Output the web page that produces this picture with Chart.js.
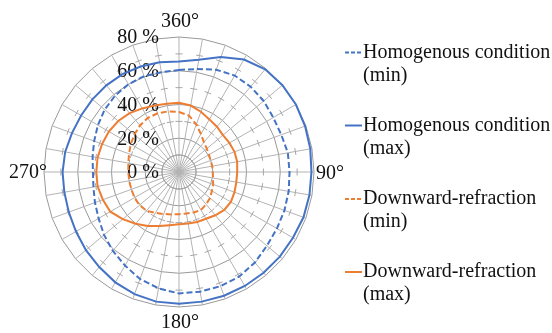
<!DOCTYPE html>
<html><head><meta charset="utf-8">
<script src="https://cdn.jsdelivr.net/npm/chart.js@4/dist/chart.umd.min.js"></script>
<style>html,body{margin:0;padding:0;background:#fff}#wrap{width:552px;height:333px}</style>
</head><body><div id="wrap"><canvas id="c" width="552" height="333"></canvas></div>
<script>
// Categories: azimuth every 10 degrees
const directions = ['0','10','20','30','40','50','60','70','80','90','100','110','120','130','140','150','160','170',
  '180','190','200','210','220','230','240','250','260','270','280','290','300','310','320','330','340','350'];
// Series values (%)
const homogMin = [60.5,62,64.5,66,66,65.5,64.5,64.5,65.5,65.5,66,66.5,67,68,70,71.5,72,72,
  72,70,67.5,64,61,58,55,53,51.5,51,52,53.5,55.5,57.5,59,60,60.5,60];
const homogMax = [65.5,67.5,72.5,77,79.5,80,80,79.5,79,78.5,78.5,78.5,78,78,78,78,78,78,
  78,78,77,75.5,73.5,72,70.5,69.5,69,69,68.5,67.5,67,67,67,67,66.5,66];
const downMin = [35.5,34,30,26,23,21.5,20.5,20,20,20,20.5,21.5,22.5,24,25,26,25.5,25,
  25,25.5,26.5,28,30,30.5,30.5,30,30,30,30.5,31.5,33,34.5,36,37,37,36.5];
const downMax = [41,40,38,36,35,34,34.5,35,35,34.5,34.5,35,35.5,35,33.5,32,31.5,31,
  31,32,34,37,40,43.5,47,48,49,49,49,48.5,48,47,45.5,43.5,42,41];
// Series names
const seriesNames = [['Homogenous condition','(min)'],['Homogenous condition','(max)'],
  ['Downward-refraction','(min)'],['Downward-refraction','(max)']];
// Radial tick labels (major) and minor tick marks
const radialTickValues = [0,20,40,60,80];
const radialTickLabels = ['0 %','20 %','40 %','60 %','80 %'];
const minorTickValues = [10,30,50,70];
// Angle labels
const angleLabelIndex = [0,9,18,27];
const angleLabelText = ['360°','90°','180°','270°'];

const BLUE = '#4472C4', ORANGE = '#ED7D31';
const FONT = '20px "Liberation Serif", "Times New Roman", serif';
const GRID = '#999999', SPOKE = '#b3b3b3', TICK = '#a6a6a6';

const labelsPlugin = {
  id: 'labelsPlugin',
  beforeDatasetsDraw(chart) {
    const s = chart.scales.r, ctx = chart.ctx;
    ctx.save();
    // minor cross tick marks on every spoke
    ctx.strokeStyle = TICK; ctx.lineWidth = 1;
    const n = chart.data.labels.length;
    for (let i = 0; i < n; i++) {
      const a = s.getIndexAngle(i) - Math.PI / 2;
      const px = -Math.sin(a), py = Math.cos(a);
      minorTickValues.forEach(v => {
        const p = s.getPointPosition(i, s.getDistanceFromCenterForValue(v));
        ctx.beginPath();
        ctx.moveTo(p.x - px * 3.5, p.y - py * 3.5);
        ctx.lineTo(p.x + px * 3.5, p.y + py * 3.5);
        ctx.stroke();
      });
    }
    ctx.font = FONT; ctx.fillStyle = '#111';
    ctx.textAlign = 'right'; ctx.textBaseline = 'middle';
    radialTickValues.forEach((v, i) => {
      const d = s.getDistanceFromCenterForValue(v);
      ctx.fillText(radialTickLabels[i], s.xCenter - 20, s.yCenter - d + 1);
    });
    // angle labels
    const R = s.drawingArea;
    angleLabelIndex.forEach((idx, i) => {
      const p = s.getPointPosition(idx, R);
      const t = angleLabelText[i];
      if (idx === 0) { ctx.textAlign = 'center'; ctx.fillText(t, p.x + 1, p.y - 15); }
      else if (idx === 18) { ctx.textAlign = 'center'; ctx.fillText(t, p.x + 1, p.y + 16); }
      else if (idx === 9) { ctx.textAlign = 'left'; ctx.fillText(t, p.x + 2, p.y + 2); }
      else { ctx.textAlign = 'right'; ctx.fillText(t, p.x + 3, p.y + 1); }
    });
    ctx.restore();
  },
  afterDraw(chart) {
    const ctx = chart.ctx;
    const legendY = [52.5, 125.5, 199, 272];
    ctx.save();
    ctx.font = FONT; ctx.fillStyle = '#111';
    ctx.textAlign = 'left'; ctx.textBaseline = 'middle';
    chart.data.datasets.forEach((ds, i) => {
      const y = legendY[i];
      ctx.strokeStyle = ds.borderColor; ctx.lineWidth = 2;
      ctx.setLineDash(ds.borderDash && ds.borderDash.length ? [4, 2] : []);
      ctx.beginPath(); ctx.moveTo(345, y); ctx.lineTo(362, y); ctx.stroke();
      ctx.setLineDash([]);
      const lines = Array.isArray(ds.label) ? ds.label : [ds.label];
      lines.forEach((ln, k) => ctx.fillText(ln, 363, y + k * 23));
    });
    ctx.restore();
  }
};

new Chart(document.getElementById('c'), {
  type: 'radar',
  data: {
    labels: directions,
    datasets: [
      { label: seriesNames[0], data: homogMin, borderColor: BLUE, borderDash: [6, 3], borderWidth: 2 },
      { label: seriesNames[1], data: homogMax, borderColor: BLUE, borderWidth: 2 },
      { label: seriesNames[2], data: downMin, borderColor: ORANGE, borderDash: [6, 3], borderWidth: 2 },
      { label: seriesNames[3], data: downMax, borderColor: ORANGE, borderWidth: 2 }
    ]
  },
  options: {
    responsive: false,
    animation: false,
    devicePixelRatio: 1,
    layout: { padding: { left: 44, top: 37, right: 237, bottom: 25 } },
    elements: { point: { radius: 0, hoverRadius: 0 }, line: { tension: 0, fill: false, backgroundColor: 'transparent' } },
    plugins: { legend: { display: false }, tooltip: { enabled: false } },
    scales: {
      r: {
        min: 0, max: 80,
        ticks: { stepSize: 20, display: false },
        grid: { color: GRID, lineWidth: 1 },
        angleLines: { color: SPOKE, lineWidth: 1 },
        pointLabels: { display: false }
      }
    }
  },
  plugins: [labelsPlugin]
});
</script></body></html>
